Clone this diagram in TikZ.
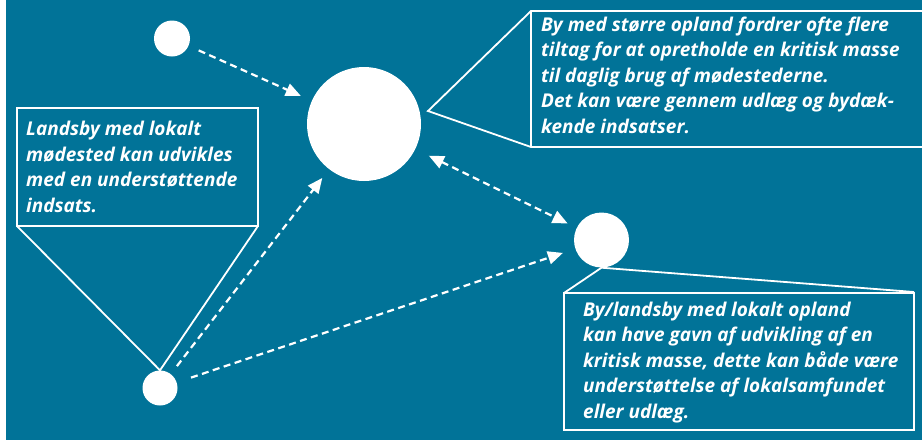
\documentclass[tikz,border=0pt]{standalone}
\usepackage{fontspec}
\setmainfont{Open Sans}[BoldItalicFont={Open Sans Bold Italic}]
\usetikzlibrary{arrows.meta}
\definecolor{bgteal}{RGB}{1,115,152}
\begin{document}
\begin{tikzpicture}[x=1pt,y=-1pt,
  dot/.style={circle,fill=white,draw=none,inner sep=0pt},
  conn/.style={draw=white,line width=2.2pt,dash pattern=on 7pt off 4.5pt,-{Triangle[length=15pt,width=13pt]}},
  dconn/.style={conn,{Triangle[length=15pt,width=13pt]}-{Triangle[length=15pt,width=13pt]}},
  callout/.style={draw=white,line width=1.8pt,line join=miter},
  txt/.style={text=white,font=\fontsize{19}{25.4}\selectfont\bfseries\itshape,align=left,inner sep=0pt,anchor=base west}]
\useasboundingbox (0,0) rectangle (922,440);
\fill[white] (0,0) rectangle (922,440);
\fill[bgteal] (6,0) rectangle (922,440);
% circles
\node[dot,minimum size=36pt] (tl) at (172,38.5) {};
\node[dot,minimum size=114pt] (big) at (364,124) {};
\node[dot,minimum size=55pt] (rt) at (601.5,240) {};
\node[dot,minimum size=35pt] (bl) at (160,388) {};
% left callout
\draw[callout] (17,108) rectangle (258,226);
\coordinate (lbsw) at (17,226);
\coordinate (lbse) at (258,226);
\draw[callout] (lbsw) -- (bl.north) -- (lbse);
\node[txt] (ltext) at (26,212) {Landsby med lokalt\\mødested kan udvikles\\med en understøttende\\indsats.};
% top right callout
\coordinate (trapex) at (428,111);
\coordinate (trtl) at (531,11);
\coordinate (trbl) at (531,147);
\draw[callout] (935,11) -- (trtl) -- (trapex) -- (trbl) -- (935,147);
\draw[callout] (trtl) -- (trbl);
\node[txt] (trtext) at (541,133) {By med større opland fordrer ofte flere\\tiltag for at opretholde en kritisk masse\\til daglig brug af mødestederne.\\Det kan være gennem udlæg og bydæk-\\kende indsatser.};
% bottom right callout
\coordinate (brtl) at (564,293);
\coordinate (brtr) at (914,292);
\draw[callout] (564,293) rectangle (914,430);
\draw[callout] (brtl) -- (rt.south) -- (brtr);
\node[txt] (brtext) at (583,418) {By/landsby med lokalt opland\\kan have gavn af udvikling af en\\kritisk masse, dette kan både være\\understøttelse af lokalsamfundet\\eller udlæg.};
% connectors
\draw[conn,shorten <=11pt,shorten >=12pt] (tl) -- (big);
\draw[conn,shorten <=10pt,shorten >=11pt] (bl) -- (big);
\draw[conn,shorten <=15pt,shorten >=13pt] (bl) -- (rt);
\draw[dconn,shorten <=15pt,shorten >=10pt] (big) -- (rt);
\end{tikzpicture}
\end{document}
